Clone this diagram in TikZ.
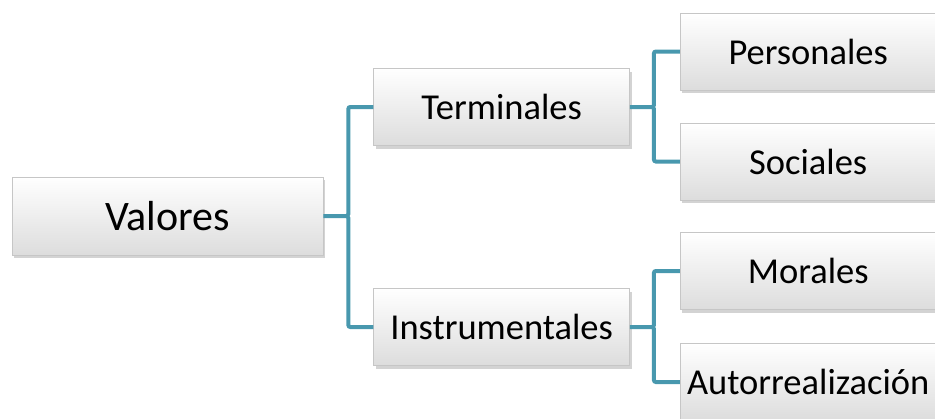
\documentclass[tikz,border=0pt]{standalone}
\usepackage{fontspec}
\setmainfont{Carlito}
\usetikzlibrary{positioning, shadows}
\definecolor{linkblue}{RGB}{72,152,174}
\tikzset{
x=1pt, y=-1pt, % one unit per pixel of the layout
node distance=50pt, % gap between the columns
box/.style={shade, top color=white, bottom color=gray!27, draw=gray!45, line width=0.6pt,
  minimum width=256pt, minimum height=77pt, inner sep=0pt, font=\fontsize{36.5}{44}\selectfont,
  drop shadow={shadow xshift=2pt, shadow yshift=-3pt, opacity=0.35}}, % sets the look of each box
link/.style={draw=linkblue, line width=4pt, rounded corners=2pt}, % the branches
}
\begin{document}
\begin{tikzpicture}
      \useasboundingbox (0,0) rectangle (935,418);
      \node[box, minimum width=311pt, minimum height=78pt, font=\fontsize{42}{50}\selectfont] (valores) at (167.5,216) {Valores};
      \node[box, right=of valores, yshift=109pt] (terminales) {Terminales};
      \node[box, right=of valores, yshift=-111pt] (instrumentales) {Instrumentales};
      \node[box, right=of terminales, yshift=55.5pt] (personales) {Personales};
      \node[box, right=of terminales, yshift=-54.5pt] (sociales) {Sociales};
      \node[box, right=of instrumentales, yshift=56pt] (morales) {Morales};
      \node[box, right=of instrumentales, yshift=-55pt] (autorrealizacion) {Autorrealización};
      \draw[link] (valores.east) -- ++(25,0) |- (terminales.west)
      (valores.east) -- ++(25,0) |- (instrumentales.west);
      \draw[link] (terminales.east) -- ++(24,0) |- (personales.west)
      (terminales.east) -- ++(24,0) |- (sociales.west);
      \draw[link] (instrumentales.east) -- ++(24,0) |- (morales.west)
      (instrumentales.east) -- ++(24,0) |- (autorrealizacion.west);
    \end{tikzpicture}
\end{document}
